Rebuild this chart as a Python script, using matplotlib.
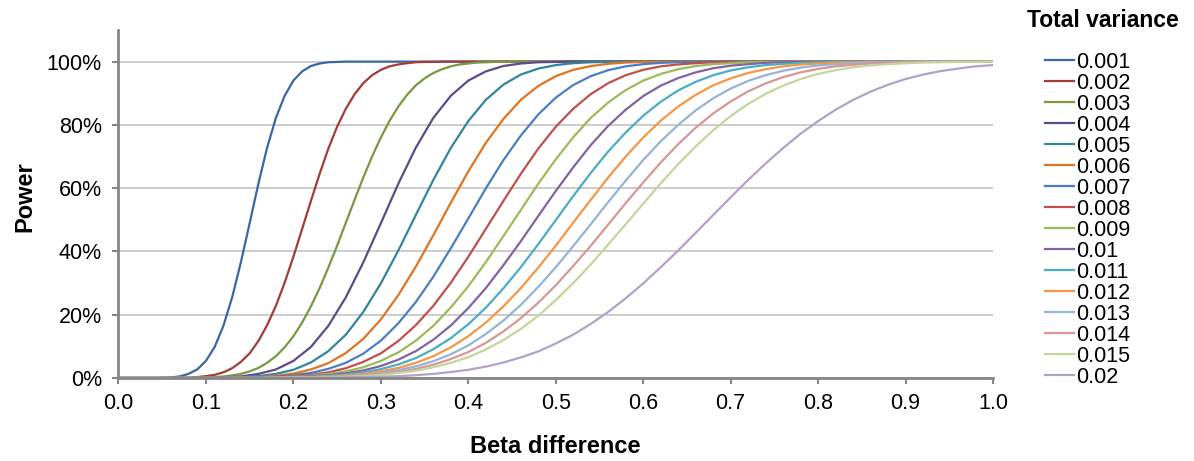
import matplotlib
matplotlib.use('Agg')
import matplotlib.pyplot as plt
import matplotlib.ticker as plticker

plt.rcParams['font.family'] = ['Liberation Sans', 'DejaVu Sans']

# beta difference (x) and power in % for each total variance
beta = [0.00, 0.02, 0.04, 0.06, 0.08, 0.10, 0.12, 0.14, 0.16, 0.18,
        0.20, 0.22, 0.24, 0.26, 0.28, 0.30, 0.32, 0.34, 0.36, 0.38,
        0.40, 0.42, 0.44, 0.46, 0.48, 0.50, 0.52, 0.54, 0.56, 0.58,
        0.60, 0.62, 0.64, 0.66, 0.68, 0.70, 0.72, 0.74, 0.76, 0.78,
        0.80, 0.82, 0.84, 0.86, 0.88, 0.90, 0.92, 0.94, 0.96, 0.98, 1.00]

# the three steepest curves are read at a finer step
beta_fine = [0.00, 0.01, 0.02, 0.03, 0.04, 0.05, 0.06, 0.07, 0.08, 0.09,
             0.10, 0.11, 0.12, 0.13, 0.14, 0.15, 0.16, 0.17, 0.18, 0.19,
             0.20, 0.21, 0.22, 0.23, 0.24, 0.25, 0.26, 0.27, 0.28, 0.29,
             0.30, 0.31, 0.32, 0.33, 0.34, 0.35, 0.36, 0.37, 0.38, 0.39,
             0.40, 0.41, 0.42, 0.43, 0.44, 0.45, 0.46, 0.47, 0.48, 0.49,
             0.50, 1.00]

p001 = [0, 0, 0, 0, 0, 0.1, 0.2, 0.5, 1.3, 2.7,
        5.4, 9.8, 16.5, 25.5, 36.6, 48.9, 61.4, 72.8, 82.2, 89.2,
        94.0, 96.9, 98.6, 99.4, 99.8, 99.9, 100, 100, 100, 100,
        100, 100, 100, 100, 100, 100, 100, 100, 100, 100,
        100, 100, 100, 100, 100, 100, 100, 100, 100, 100, 100, 100]
p002 = [0, 0, 0, 0, 0, 0, 0, 0.1, 0.1, 0.3,
        0.6, 1.0, 1.8, 3.1, 5.1, 7.8, 11.7, 16.7, 22.8, 30.1,
        38.3, 47.1, 55.9, 64.5, 72.5, 79.4, 85.1, 89.7, 93.2, 95.7,
        97.4, 98.5, 99.1, 99.5, 99.8, 99.9, 99.9, 100, 100, 100,
        100, 100, 100, 100, 100, 100, 100, 100, 100, 100, 100, 100]
p003 = [0, 0, 0, 0, 0, 0, 0, 0, 0, 0.1,
        0.2, 0.3, 0.5, 0.8, 1.3, 2.1, 3.2, 4.8, 6.9, 9.7,
        13.2, 17.5, 22.6, 28.4, 34.9, 41.8, 49.1, 56.3, 63.4, 70.0,
        76.0, 81.3, 85.8, 89.5, 92.5, 94.7, 96.4, 97.6, 98.5, 99.1,
        99.4, 99.7, 99.8, 99.9, 99.9, 100, 100, 100, 100, 100, 100, 100]
p004 = [0, 0, 0, 0, 0, 0.1, 0.2, 0.5, 1.3, 2.7,
        5.4, 9.8, 16.5, 25.5, 36.6, 48.9, 61.4, 72.8, 82.2, 89.2,
        94.0, 96.9, 98.6, 99.4, 99.8, 99.9, 100, 100, 100, 100,
        100, 100, 100, 100, 100, 100, 100, 100, 100, 100,
        100, 100, 100, 100, 100, 100, 100, 100, 100, 100, 100]
p005 = [0, 0, 0, 0, 0, 0, 0.1, 0.3, 0.6, 1.3,
        2.6, 4.9, 8.5, 13.7, 20.9, 29.9, 40.3, 51.5, 62.6, 72.7,
        81.2, 87.9, 92.7, 95.9, 97.8, 98.9, 99.5, 99.8, 99.9, 100,
        100, 100, 100, 100, 100, 100, 100, 100, 100, 100,
        100, 100, 100, 100, 100, 100, 100, 100, 100, 100, 100]
p006 = [0, 0, 0, 0, 0, 0, 0.1, 0.2, 0.3, 0.7,
        1.4, 2.7, 4.7, 7.9, 12.4, 18.5, 26.2, 35.2, 45.1, 55.4,
        65.3, 74.3, 81.8, 87.9, 92.3, 95.4, 97.4, 98.6, 99.3, 99.7,
        99.9, 99.9, 100, 100, 100, 100, 100, 100, 100, 100,
        100, 100, 100, 100, 100, 100, 100, 100, 100, 100, 100]
p007 = [0, 0, 0, 0, 0, 0, 0, 0.1, 0.2, 0.4,
        0.9, 1.6, 2.9, 4.8, 7.7, 11.8, 17.3, 24.0, 32.0, 41.0,
        50.4, 59.9, 68.8, 76.6, 83.3, 88.6, 92.6, 95.4, 97.3, 98.5,
        99.2, 99.6, 99.8, 99.9, 100, 100, 100, 100, 100, 100,
        100, 100, 100, 100, 100, 100, 100, 100, 100, 100, 100]
p008 = [0, 0, 0, 0, 0, 0, 0, 0.1, 0.1, 0.3,
        0.6, 1.0, 1.8, 3.1, 5.1, 7.8, 11.7, 16.7, 22.8, 30.1,
        38.3, 47.1, 55.9, 64.5, 72.5, 79.4, 85.1, 89.7, 93.2, 95.7,
        97.4, 98.5, 99.1, 99.5, 99.8, 99.9, 99.9, 100, 100, 100,
        100, 100, 100, 100, 100, 100, 100, 100, 100, 100, 100]
p009 = [0, 0, 0, 0, 0, 0, 0, 0, 0.1, 0.2,
        0.4, 0.7, 1.3, 2.1, 3.4, 5.4, 8.1, 11.8, 16.5, 22.3,
        29.0, 36.6, 44.8, 53.1, 61.4, 69.1, 76.1, 82.2, 87.1, 91.0,
        94.0, 96.1, 97.6, 98.6, 99.2, 99.5, 99.8, 99.9, 99.9, 100,
        100, 100, 100, 100, 100, 100, 100, 100, 100, 100, 100]
p010 = [0, 0, 0, 0, 0, 0, 0, 0, 0.1, 0.1,
        0.3, 0.5, 0.9, 1.5, 2.4, 3.8, 5.8, 8.5, 12.1, 16.6,
        22.1, 28.4, 35.6, 43.2, 51.2, 59.1, 66.6, 73.6, 79.7, 84.8,
        89.1, 92.4, 94.8, 96.6, 97.9, 98.7, 99.2, 99.6, 99.8, 99.9,
        99.9, 100, 100, 100, 100, 100, 100, 100, 100, 100, 100]
p011 = [0, 0, 0, 0, 0, 0, 0, 0, 0.1, 0.1,
        0.2, 0.4, 0.7, 1.1, 1.8, 2.8, 4.3, 6.3, 9.1, 12.6,
        17.0, 22.2, 28.3, 35.0, 42.3, 49.9, 57.5, 64.8, 71.6, 77.6,
        82.9, 87.3, 90.9, 93.6, 95.7, 97.2, 98.2, 98.9, 99.3, 99.6,
        99.8, 99.9, 99.9, 100, 100, 100, 100, 100, 100, 100, 100]
p012 = [0, 0, 0, 0, 0, 0, 0, 0, 0, 0.1,
        0.2, 0.3, 0.5, 0.8, 1.3, 2.1, 3.2, 4.8, 6.9, 9.7,
        13.2, 17.5, 22.6, 28.4, 34.9, 41.8, 49.1, 56.3, 63.4, 70.0,
        76.0, 81.3, 85.8, 89.5, 92.5, 94.7, 96.4, 97.6, 98.5, 99.1,
        99.4, 99.7, 99.8, 99.9, 99.9, 100, 100, 100, 100, 100, 100]
p013 = [0, 0, 0, 0, 0, 0, 0, 0, 0, 0.1,
        0.1, 0.2, 0.4, 0.6, 1.0, 1.6, 2.5, 3.7, 5.3, 7.5,
        10.3, 13.9, 18.1, 23.1, 28.8, 35.0, 41.7, 48.6, 55.6, 62.4,
        68.9, 74.8, 80.0, 84.6, 88.4, 91.5, 93.9, 95.7, 97.1, 98.1,
        98.8, 99.2, 99.5, 99.7, 99.8, 99.9, 100, 100, 100, 100, 100]
p014 = [0, 0, 0, 0, 0, 0, 0, 0, 0, 0.1,
        0.1, 0.2, 0.3, 0.5, 0.8, 1.3, 1.9, 2.9, 4.2, 6.0,
        8.2, 11.1, 14.7, 18.9, 23.8, 29.3, 35.4, 41.8, 48.5, 55.3,
        61.8, 68.1, 73.9, 79.1, 83.6, 87.4, 90.6, 93.1, 95.1, 96.6,
        97.7, 98.5, 99.0, 99.4, 99.6, 99.8, 99.9, 99.9, 100, 100, 100]
p015 = [0, 0, 0, 0, 0, 0, 0, 0, 0, 0,
        0.1, 0.1, 0.2, 0.4, 0.6, 1.0, 1.6, 2.3, 3.4, 4.8,
        6.6, 9.0, 12.0, 15.5, 19.7, 24.6, 30.0, 35.9, 42.2, 48.6,
        55.1, 61.5, 67.6, 73.2, 78.3, 82.8, 86.6, 89.8, 92.4, 94.5,
        96.1, 97.3, 98.2, 98.8, 99.2, 99.5, 99.7, 99.8, 99.9, 99.9, 100]
p020 = [0, 0, 0, 0, 0, 0, 0, 0, 0, 0,
        0, 0.1, 0.1, 0.2, 0.3, 0.4, 0.6, 0.9, 1.3, 1.9,
        2.6, 3.6, 4.9, 6.5, 8.4, 10.9, 13.7, 17.1, 20.9, 25.2,
        29.9, 35.0, 40.3, 45.9, 51.5, 57.1, 62.6, 67.8, 72.7, 77.2,
        81.2, 84.8, 87.9, 90.5, 92.7, 94.5, 95.9, 97.0, 97.8, 98.5, 98.9]

labels = ['0.001', '0.002', '0.003', '0.004', '0.005', '0.006', '0.007', '0.008',
          '0.009', '0.01', '0.011', '0.012', '0.013', '0.014', '0.015', '0.02']
series = [p001, p002, p003, p004, p005, p006, p007, p008,
          p009, p010, p011, p012, p013, p014, p015, p020]
xgrids = [beta_fine, beta_fine, beta_fine] + [beta] * 13
colors = ['#3A67A3', '#A33B37', '#77993F', '#5E4A8A', '#31859C', '#E07421',
          '#4A7EC4', '#C0504D', '#9BBB59', '#8064A2', '#4BACC6', '#F79646',
          '#95B3D7', '#D99694', '#C3D69B', '#B3A2C7']

fig = plt.figure(figsize=(11.94, 4.61), dpi=100)
ax = fig.add_axes([0.0992, 0.180, 0.7325, 0.755])

for x, y, lab, c in zip(xgrids, series, labels, colors):
    ax.plot(x, y, color=c, lw=1.6, label=lab)

ax.set_xlim(0, 1.0)
ax.set_ylim(0, 110)
ax.set_yticks([0, 20, 40, 60, 80, 100])
ax.set_xticks([0.0, 0.1, 0.2, 0.3, 0.4, 0.5, 0.6, 0.7, 0.8, 0.9, 1.0])
ax.yaxis.set_major_formatter(plticker.FuncFormatter(lambda v, p: '%d%%' % v))
ax.xaxis.set_major_formatter(plticker.FormatStrFormatter('%.1f'))
ax.tick_params(axis='both', labelsize=15.5, color='#868686', length=4, width=1.5,
               direction='out')
ax.tick_params(axis='x', pad=7)
ax.tick_params(axis='y', pad=8)
ax.grid(axis='y', color='#BEBEBE', lw=1.1)
ax.set_axisbelow(True)
for s in ['top', 'right']:
    ax.spines[s].set_visible(False)
for s in ['left', 'bottom']:
    ax.spines[s].set_color('#868686')
    ax.spines[s].set_linewidth(2)

ax.set_xlabel('Beta difference', fontsize=17, fontweight='bold')
ax.set_ylabel('Power', fontsize=17, fontweight='bold')
ax.xaxis.set_label_coords(0.5, -0.165)
ax.yaxis.set_label_coords(-0.094, 0.52)

fig.text(0.924, 0.955, 'Total variance', fontsize=16.5, fontweight='bold',
         ha='center', va='center')
fig.legend(loc='upper left', bbox_to_anchor=(0.875, 0.888), frameon=False,
           fontsize=15.5, handlelength=1.35, handletextpad=0.1,
           labelspacing=0.0, borderpad=0, borderaxespad=0)

fig.savefig('out.png', dpi=100)
